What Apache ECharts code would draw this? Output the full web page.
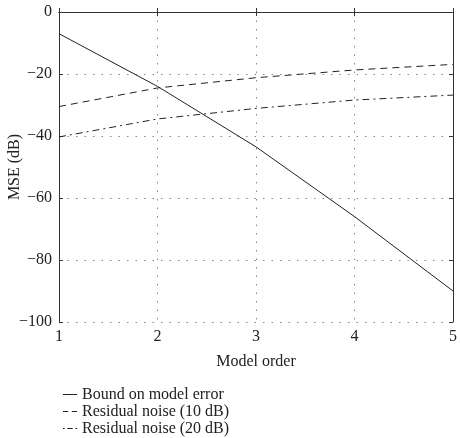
<!DOCTYPE html>
<html>
<head>
<meta charset="utf-8">
<script src="https://cdn.jsdelivr.net/npm/echarts@6/dist/echarts.min.js"></script>
<style>
  html, body { margin: 0; padding: 0; background: #fff; }
  #chart { width: 460px; height: 438px; }
</style>
</head>
<body>
<div id="chart"></div>
<script>
// model orders on the x axis
var orders = [1, 2, 3, 4, 5];
// MSE values (dB)
var boundModelError = [-7, -24, -43.5, -66, -90];
var residual10dB = [-30.5, -24.5, -21.2, -18.7, -16.9];
var residual20dB = [-40.3, -34.5, -31.1, -28.4, -26.8];

var seriesNames = ['Bound on model error', 'Residual noise (10 dB)', 'Residual noise (20 dB)'];

function pairs(xs, ys) {
  var out = [];
  for (var i = 0; i < xs.length; i++) out.push([xs[i], ys[i]]);
  return out;
}

var font = '"Liberation Serif", "DejaVu Serif", serif';
var dotted = { color: '#888', type: [1.5, 7], width: 1 };

// little line samples for the legend (solid, dashed, dash-dot)
var legendIcons = [
  'path://M0,0H14V1H0Z',
  'path://M0,0H5V1H0Z M8.5,0H13.5V1H8.5Z',
  'path://M0,0H1.5V1H0Z M4,0H9V1H4Z M11.5,0H13V1H11.5Z'
];

var myChart = echarts.init(document.getElementById('chart'), null, { renderer: 'canvas' });

var option = {
  animation: false,
  textStyle: { fontFamily: font, color: '#222' },
  grid: { left: 59, right: 7, top: 12, bottom: 116, containLabel: false, outerBoundsMode: 'none' },
  legend: {
    orient: 'vertical',
    left: 63,
    top: 386,
    padding: 0,
    itemWidth: 14,
    itemHeight: 1,
    itemGap: 0,
    symbolKeepAspect: false,
    textStyle: { fontFamily: font, fontSize: 16, lineHeight: 17, color: '#222' },
    data: seriesNames.map(function (n, i) { return { name: n, icon: legendIcons[i] }; })
  },
  xAxis: [{
    type: 'value',
    min: 1, max: 5, interval: 1,
    name: 'Model order',
    nameLocation: 'middle',
    nameGap: 32,
    nameMoveOverlap: false,
    nameTextStyle: { fontFamily: font, fontSize: 16, color: '#222' },
    axisLine: { lineStyle: { color: '#333', width: 1 } },
    axisTick: { inside: true, length: 4, lineStyle: { color: '#333' } },
    axisLabel: { fontFamily: font, fontSize: 16, color: '#222', margin: 7 },
    splitLine: { show: true, lineStyle: dotted }
  }, {
    type: 'value',
    position: 'top',
    min: 1, max: 5, interval: 1,
    axisLine: { show: true, lineStyle: { color: '#333', width: 1 } },
    axisTick: { inside: true, length: 4, lineStyle: { color: '#333' } },
    axisLabel: { show: false },
    splitLine: { show: false }
  }],
  yAxis: [{
    type: 'value',
    min: -100, max: 0, interval: 20,
    name: 'MSE (dB)',
    nameLocation: 'middle',
    nameGap: 36,
    nameRotate: 90,
    nameMoveOverlap: false,
    nameTextStyle: { fontFamily: font, fontSize: 16, color: '#222' },
    axisLine: { show: true, lineStyle: { color: '#333', width: 1 } },
    axisTick: { inside: true, length: 4, lineStyle: { color: '#333' } },
    axisLabel: {
      fontFamily: font, fontSize: 16, color: '#222', margin: 7,
      formatter: function (v) { return v < 0 ? '\u2212' + (-v) : '' + v; }
    },
    splitLine: { show: true, lineStyle: dotted }
  }, {
    type: 'value',
    position: 'right',
    min: -100, max: 0, interval: 20,
    axisLine: { show: true, lineStyle: { color: '#333', width: 1 } },
    axisTick: { show: true, inside: true, length: 4, lineStyle: { color: '#333' } },
    axisLabel: { show: false },
    splitLine: { show: false }
  }],
  series: [{
    name: seriesNames[0],
    type: 'line',
    symbol: 'none',
    data: pairs(orders, boundModelError),
    lineStyle: { color: '#222', width: 1, type: 'solid' },
    itemStyle: { color: '#222' }
  }, {
    name: seriesNames[1],
    type: 'line',
    symbol: 'none',
    data: pairs(orders, residual10dB),
    lineStyle: { color: '#222', width: 1, type: [7, 5] },
    itemStyle: { color: '#222' }
  }, {
    name: seriesNames[2],
    type: 'line',
    symbol: 'none',
    data: pairs(orders, residual20dB),
    lineStyle: { color: '#222', width: 1, type: [7, 4, 2, 4] },
    itemStyle: { color: '#222' }
  }]
};

myChart.setOption(option);
</script>
</body>
</html>
